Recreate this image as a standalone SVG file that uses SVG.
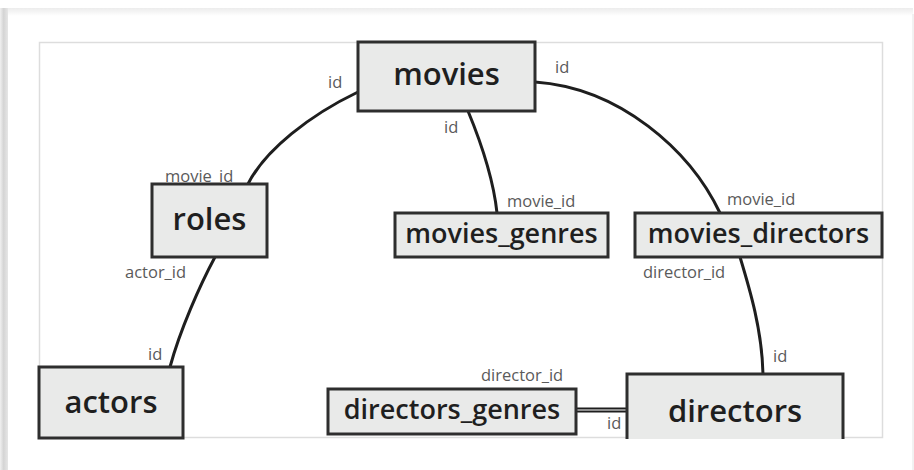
<svg xmlns="http://www.w3.org/2000/svg" width="914" height="470" viewBox="0 0 914 470">
  <defs>
    <linearGradient id="sideBar" x1="0" y1="0" x2="1" y2="0">
      <stop offset="0" stop-color="#f0f0f0"/>
      <stop offset="0.45" stop-color="#d4d4d4"/>
      <stop offset="1" stop-color="#e6e6e6"/>
    </linearGradient>
    <linearGradient id="topBand" x1="0" y1="0" x2="0" y2="1">
      <stop offset="0" stop-color="#ececec"/>
      <stop offset="1" stop-color="#ffffff"/>
    </linearGradient>
  </defs>
  <style>
    .box { fill: #e9eae9; stroke: #2e2e2e; stroke-width: 3; }
    .edge { fill: none; stroke: #1e1e1e; stroke-width: 3; stroke-linecap: round; }
    .big { font-family: "Open Sans", "Noto Sans", "DejaVu Sans", sans-serif; font-weight: 600; fill: #1f1f1f; text-anchor: middle; }
    .lbl { font-family: "Open Sans", "Noto Sans", "DejaVu Sans", sans-serif; font-size: 16.5px; fill: #5a5a5a; }
  </style>

  <!-- page frame -->
  <rect x="0" y="0" width="914" height="470" fill="#ffffff"/>
  <rect x="8" y="8" width="905" height="8" fill="url(#topBand)"/>
  <rect x="0" y="8" width="8" height="462" fill="url(#sideBar)"/>
  <line x1="913" y1="14" x2="913" y2="470" stroke="#e4e4e4" stroke-width="1"/>
  <rect x="39.5" y="42.5" width="843" height="395" fill="#ffffff" stroke="#dddddd" stroke-width="1.5"/>

  <!-- connectors -->
  <g id="connectors">
    <path class="edge" d="M358,92 C310,115 265,150 248,184"/>
    <path class="edge" d="M215,257 C200,285 180,330 170,367"/>
    <path class="edge" d="M468,111 C480,140 493,175 497,213"/>
    <path class="edge" d="M535,82 C620,88 690,150 720,213"/>
    <path class="edge" d="M740,257 C750,290 762,330 763,374"/>
    <line x1="576" y1="408.5" x2="627" y2="408.5" stroke="#1e1e1e" stroke-width="2"/>
    <line x1="576" y1="411.5" x2="627" y2="411.5" stroke="#1e1e1e" stroke-width="2"/>

    <text class="lbl" x="328" y="88">id</text>
    <text class="lbl" x="165" y="182">movie_id</text>
    <text class="lbl" x="444" y="133">id</text>
    <text class="lbl" x="507" y="207">movie_id</text>
    <text class="lbl" x="555" y="73">id</text>
    <text class="lbl" x="727" y="205">movie_id</text>
    <text class="lbl" x="125" y="278">actor_id</text>
    <text class="lbl" x="148" y="360">id</text>
    <text class="lbl" x="643" y="278">director_id</text>
    <text class="lbl" x="773" y="362">id</text>
    <text class="lbl" x="481" y="381">director_id</text>
    <text class="lbl" x="607" y="429">id</text>
  </g>

  <g id="movies">
    <rect class="box" x="358" y="42" width="177" height="69"/>
    <text class="big" x="446.5" y="85" font-size="31">movies</text>
  </g>

  <g id="roles">
    <rect class="box" x="152" y="184" width="115" height="73"/>
    <text class="big" x="209.5" y="230" font-size="31">roles</text>
  </g>

  <g id="actors">
    <rect class="box" x="39" y="367" width="144" height="71"/>
    <text class="big" x="111" y="413" font-size="31">actors</text>
  </g>

  <g id="movies_genres">
    <rect class="box" x="395" y="213" width="213" height="44"/>
    <text class="big" x="501.5" y="243" font-size="27">movies_genres</text>
  </g>

  <g id="movies_directors">
    <rect class="box" x="635" y="213" width="247" height="44"/>
    <text class="big" x="758.5" y="243" font-size="27">movies_directors</text>
  </g>

  <g id="directors_genres">
    <rect class="box" x="328" y="389" width="248" height="45"/>
    <text class="big" x="452" y="419" font-size="27">directors_genres</text>
  </g>

  <g id="directors">
    <rect x="627" y="374" width="216" height="65" fill="#e9eae9"/>
    <path d="M627,439 V374 H843 V439" fill="none" stroke="#2e2e2e" stroke-width="3"/>
    <text class="big" x="735" y="422" font-size="31">directors</text>
  </g>
</svg>
